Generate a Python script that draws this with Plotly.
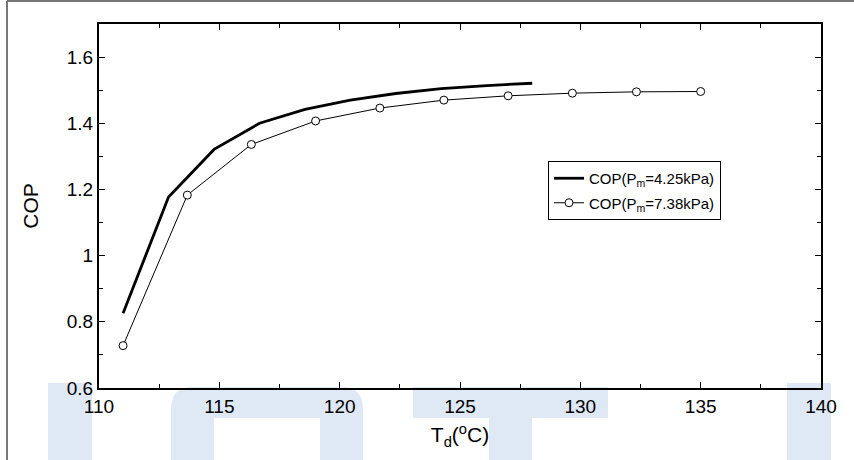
import plotly.graph_objects as go

# ---- data ----
td_a = [111.0, 112.89, 114.78, 116.67, 118.56, 120.44, 122.33, 124.22, 126.11, 128.0]
cop_a = [0.826, 1.177, 1.321, 1.400, 1.442, 1.470, 1.490, 1.505, 1.514, 1.521]

td_b = [111.0, 113.67, 116.33, 119.0, 121.67, 124.33, 127.0, 129.67, 132.33, 135.0]
cop_b = [0.728, 1.183, 1.336, 1.407, 1.446, 1.470, 1.483, 1.491, 1.495, 1.496]

name_a = "COP(P<sub>m</sub>=4.25kPa)"
name_b = "COP(P<sub>m</sub>=7.38kPa)"

x_ticks = [110, 115, 120, 125, 130, 135, 140]
y_ticks = [0.6, 0.8, 1.0, 1.2, 1.4, 1.6]
y_labels = ["0.6", "0.8", "1", "1.2", "1.4", "1.6"]

W, H = 854, 460
L, R, T, B = 99, 33, 24, 72
PW, PH = W - L - R, H - T - B


def px(x):
    return (x - L) / PW


def py(y):
    return (H - B - y) / PH


fig = go.Figure()
fig.add_trace(go.Scatter(x=td_a, y=cop_a, mode="lines", name=name_a, legendgroup="a",
                         line=dict(color="black", width=2.8)))
fig.add_trace(go.Scatter(x=td_b, y=cop_b, mode="lines+markers", name=name_b, legendgroup="b",
                         line=dict(color="black", width=1),
                         marker=dict(symbol="circle", size=8, color="white",
                                     line=dict(color="black", width=1))))

blue = "#dfe9f6"
shapes = []


def rect(x0, y0, x1, y1):
    return dict(type="rect", xref="paper", yref="paper", x0=px(x0), x1=px(x1),
                y0=py(y1), y1=py(y0), fillcolor=blue, line=dict(width=0), layer="below")


shapes.append(rect(48, 383, 92, 460))
shapes.append(rect(787, 383, 831, 460))
t_pts = [(413, 387), (608, 387), (608, 418), (532, 418), (532, 460), (489, 460), (489, 418), (413, 418)]
path_t = "M " + " L ".join(f"{px(a):.5f},{py(b):.5f}" for a, b in t_pts) + " Z"
shapes.append(dict(type="path", xref="paper", yref="paper", path=path_t,
                   fillcolor=blue, line=dict(width=0), layer="below"))
r = 22
p = lambda a, b: f"{px(a):.5f},{py(b):.5f}"
path_n = (f"M {p(171,460)} L {p(171,387+r)} Q {p(171,387)} {p(171+r,387)} "
          f"L {p(363-r,387)} Q {p(363,387)} {p(363,387+r)} L {p(363,460)} "
          f"L {p(320,460)} L {p(320,418)} L {p(214,418)} L {p(214,460)} Z")
shapes.append(dict(type="path", xref="paper", yref="paper", path=path_n,
                   fillcolor=blue, line=dict(width=0), layer="below"))
shapes.append(dict(type="line", xref="paper", yref="paper", x0=px(7), x1=px(7),
                   y0=py(1), y1=py(460), line=dict(color="#777777", width=2), layer="below"))
shapes.append(dict(type="line", xref="paper", yref="paper", x0=px(7), x1=px(854),
                   y0=py(1), y1=py(1), line=dict(color="#777777", width=2), layer="below"))

font_family = "Liberation Sans, Arial, sans-serif"

fig.update_layout(
    width=W, height=H,
    margin=dict(l=L, r=R, t=T, b=B, pad=0),
    paper_bgcolor="white",
    plot_bgcolor="rgba(0,0,0,0)",
    font=dict(family=font_family, color="black", size=18),
    shapes=shapes,
    showlegend=True,
    legend=dict(x=px(548), y=py(161), xanchor="left", yanchor="top",
                bordercolor="black", borderwidth=1, bgcolor="white",
                font=dict(size=15, family=font_family), tracegroupgap=2,
                itemwidth=30),
    xaxis=dict(range=[110, 140], tickvals=x_ticks, ticks="inside", ticklen=6,
               tickwidth=1, tickcolor="black",
               showline=True, linecolor="black", linewidth=2, mirror="ticks",
               showgrid=False, zeroline=False,
               minor=dict(ticks="inside", ticklen=4, dtick=2.5, tickcolor="black", showgrid=False),
               tickfont=dict(size=19),
               title=dict(text="T<sub>d</sub>(<sup>o</sup>C)", font=dict(size=21), standoff=12)),
    yaxis=dict(range=[0.6, 1.7], tickvals=y_ticks, ticktext=y_labels, ticks="inside",
               ticklen=6, tickwidth=1, tickcolor="black",
               showline=True, linecolor="black", linewidth=2, mirror="ticks",
               showgrid=False, zeroline=False,
               minor=dict(ticks="inside", ticklen=4, dtick=0.1, tickcolor="black", showgrid=False),
               tickfont=dict(size=19),
               title=dict(text="COP", font=dict(size=21), standoff=22)),
)

fig.write_html("out.html")
